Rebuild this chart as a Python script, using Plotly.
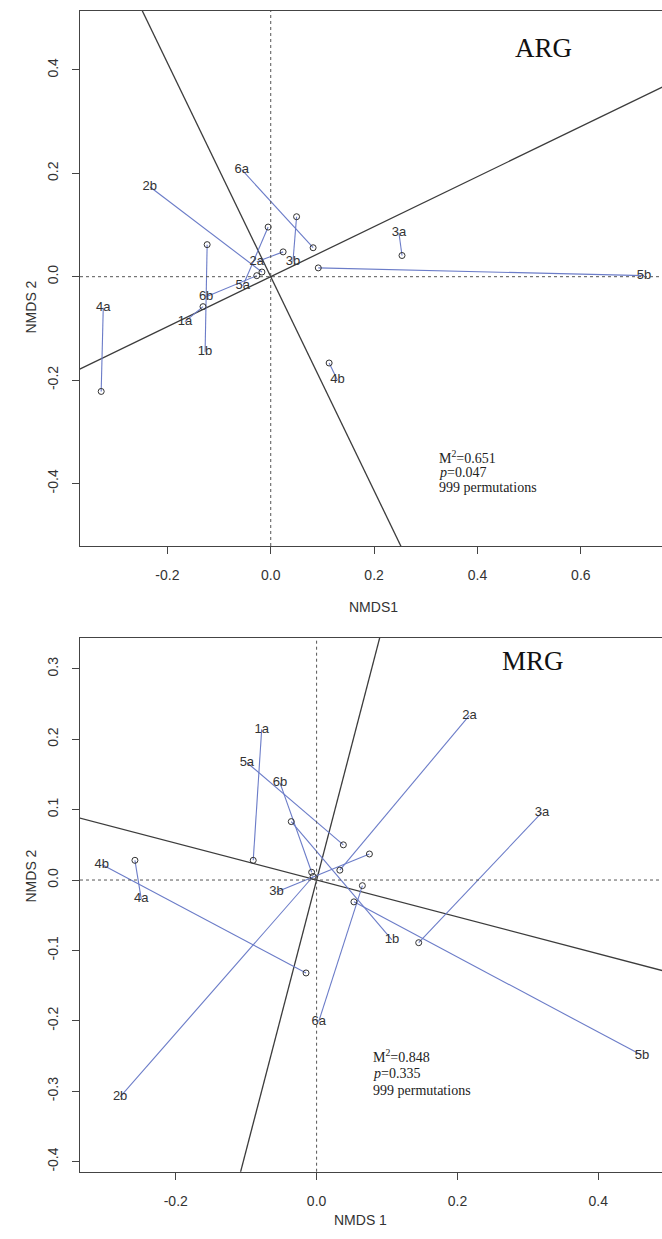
import plotly.graph_objects as go

W, H = 662, 1239

# ---------------- ARG ordination (Procrustes) ----------------
ARG_SAMPLES = ["2b", "6a", "3b", "2a", "5a", "6b", "1b", "1a", "4a", "4b", "3a", "5b"]
# target configuration (open circles)
ARG_TARGET_X = [-0.017, 0.082, 0.050, 0.024, -0.005, -0.027, -0.123, -0.131, -0.328, 0.113, 0.254, 0.092]
ARG_TARGET_Y = [0.009, 0.056, 0.116, 0.048, 0.096, 0.002, 0.062, -0.058, -0.222, -0.167, 0.041, 0.017]
# rotated configuration (labelled ends)
ARG_ROT_X = [-0.234, -0.056, 0.043, -0.027, -0.054, -0.125, -0.127, -0.166, -0.324, 0.129, 0.248, 0.722]
ARG_ROT_Y = [0.174, 0.207, 0.029, 0.029, -0.018, -0.039, -0.146, -0.087, -0.060, -0.200, 0.085, 0.002]
ARG_AXIS_SLOPES = [0.484, -2.07]
ARG_STATS = ["M<sup>2</sup>=0.651", "<i>p</i>=0.047", "999 permutations"]
ARG_X_TICKS = [-0.2, 0.0, 0.2, 0.4, 0.6]
ARG_Y_TICKS = [-0.4, -0.2, 0.0, 0.2, 0.4]

# ---------------- MRG ordination (Procrustes) ----------------
MRG_SAMPLES = ["1a", "5a", "6b", "2a", "3a", "4b", "4a", "3b", "1b", "6a", "2b", "5b"]
MRG_TARGET_X = [-0.090, 0.038, -0.007, 0.033, 0.145, -0.015, -0.258, 0.075, -0.036, 0.065, -0.005, 0.053]
MRG_TARGET_Y = [0.028, 0.050, 0.011, 0.014, -0.089, -0.132, 0.028, 0.037, 0.083, -0.008, 0.005, -0.031]
MRG_ROT_X = [-0.078, -0.099, -0.052, 0.217, 0.320, -0.305, -0.249, -0.057, 0.107, 0.003, -0.279, 0.462]
MRG_ROT_Y = [0.214, 0.167, 0.138, 0.234, 0.096, 0.022, -0.027, -0.017, -0.085, -0.201, -0.308, -0.249]
MRG_AXIS_SLOPES = [3.84, -0.262]
MRG_STATS = ["M<sup>2</sup>=0.848", "<i>p</i>=0.335", "999 permutations"]
MRG_X_TICKS = [-0.2, 0.0, 0.2, 0.4]
MRG_Y_TICKS = [-0.4, -0.3, -0.2, -0.1, 0.0, 0.1, 0.2, 0.3]

SANS = "Liberation Sans, Arial, sans-serif"
SERIF = "Liberation Serif, Times New Roman, serif"
ARROW_COL = "#6b7cc8"
INK = "#333333"
FRAME = "#444444"

fig = go.Figure()


def add_panel(xa, ya, samples, tx, ty, rx, ry, slopes):
    # rotation axes through the origin (clipped to the plot area)
    for m in slopes:
        fig.add_trace(go.Scatter(x=[-3, 3], y=[-3 * m, 3 * m], mode="lines",
                                 line=dict(color="#3c3c3c", width=1.3),
                                 xaxis=xa, yaxis=ya, hoverinfo="skip", showlegend=False))
    # segments from target to rotated positions
    lx, ly = [], []
    for a, b, c, d in zip(tx, ty, rx, ry):
        lx += [a, c, None]
        ly += [b, d, None]
    fig.add_trace(go.Scatter(x=lx, y=ly, mode="lines",
                             line=dict(color=ARROW_COL, width=1.1),
                             xaxis=xa, yaxis=ya, hoverinfo="skip", showlegend=False))
    fig.add_trace(go.Scatter(x=tx, y=ty, mode="markers",
                             marker=dict(symbol="circle-open", size=6,
                                         line=dict(color=INK, width=1), color=INK),
                             xaxis=xa, yaxis=ya, hoverinfo="skip", showlegend=False))
    fig.add_trace(go.Scatter(x=rx, y=ry, mode="text", text=samples,
                             textposition="middle center",
                             textfont=dict(family=SANS, size=13, color=INK),
                             xaxis=xa, yaxis=ya, hoverinfo="skip", showlegend=False))


add_panel("x", "y", ARG_SAMPLES, ARG_TARGET_X, ARG_TARGET_Y, ARG_ROT_X, ARG_ROT_Y, ARG_AXIS_SLOPES)
add_panel("x2", "y2", MRG_SAMPLES, MRG_TARGET_X, MRG_TARGET_Y, MRG_ROT_X, MRG_ROT_Y, MRG_AXIS_SLOPES)


def fmt(v):
    return f"{v:.1f}".replace("−", "-")


def axis(domain, rng, ticks, anchor, vertical=False):
    d = dict(domain=domain, range=rng, anchor=anchor,
             tickmode="array", tickvals=ticks, ticktext=[fmt(t) for t in ticks],
             ticks="outside", ticklen=7, tickwidth=1, tickcolor=FRAME,
             showline=True, linecolor=FRAME, linewidth=1,
             showgrid=False, zeroline=False,
             tickfont=dict(family=SANS, size=14, color=INK))
    if vertical:
        d.update(tickangle=-90, mirror=False, ticklabelstandoff=8)
    else:
        d.update(mirror=True, ticklabelstandoff=9)
    return d


def py(p):
    return 1 - p / H


LEFT = 80 / W
fig.update_layout(
    width=W, height=H,
    margin=dict(l=0, r=0, t=0, b=0),
    paper_bgcolor="white", plot_bgcolor="white",
    xaxis=axis([LEFT, 1], [-0.369, 0.757], ARG_X_TICKS, "y"),
    yaxis=axis([py(546), py(11)], [-0.521, 0.514], ARG_Y_TICKS, "x", vertical=True),
    xaxis2=axis([LEFT, 1], [-0.336, 0.4905], MRG_X_TICKS, "y2"),
    yaxis2=axis([py(1171.7), py(638)], [-0.4143, 0.3438], MRG_Y_TICKS, "x2", vertical=True),
)

# dashed reference lines at zero
for xr, yr in (("x", "y"), ("x2", "y2")):
    fig.add_shape(type="line", xref=f"{xr} domain", yref=yr, x0=0, x1=1, y0=0, y1=0,
                  line=dict(color="#555555", width=1, dash="3px,3px"))
    fig.add_shape(type="line", xref=xr, yref=f"{yr} domain", x0=0, x1=0, y0=0, y1=1,
                  line=dict(color="#555555", width=1, dash="3px,3px"))

ann = []
# panel titles
ann.append(dict(text="ARG", x=574 / W, y=py(31), xref="paper", yref="paper",
                showarrow=False, font=dict(family=SERIF, size=27, color="#111")))
ann.append(dict(text="MRG", x=566 / W, y=py(661), xref="paper", yref="paper",
                showarrow=False, font=dict(family=SERIF, size=27, color="#111")))
# axis titles
for txt, x, y, ang in (("NMDS1", 373, 607, 0), ("NMDS 2", 20, 279, -90),
                        ("NMDS 1", 361, 1230, 0), ("NMDS 2", 20, 905, -90)):
    ann.append(dict(text=txt, x=x / W, y=py(y), xref="paper", yref="paper", textangle=ang,
                    showarrow=False, font=dict(family=SANS, size=14, color=INK)))
# statistics
for lines, left, ys in ((ARG_STATS, 437, (457, 472, 487.5)), (MRG_STATS, 371, (1056, 1073, 1090))):
    for t, yy in zip(lines, ys):
        ann.append(dict(text=t, x=left / W, y=py(yy), xref="paper", yref="paper",
                        xanchor="left", yanchor="middle", showarrow=False,
                        font=dict(family=SERIF, size=14, color="#222")))
fig.update_layout(annotations=ann)

fig.write_html("out.html")
